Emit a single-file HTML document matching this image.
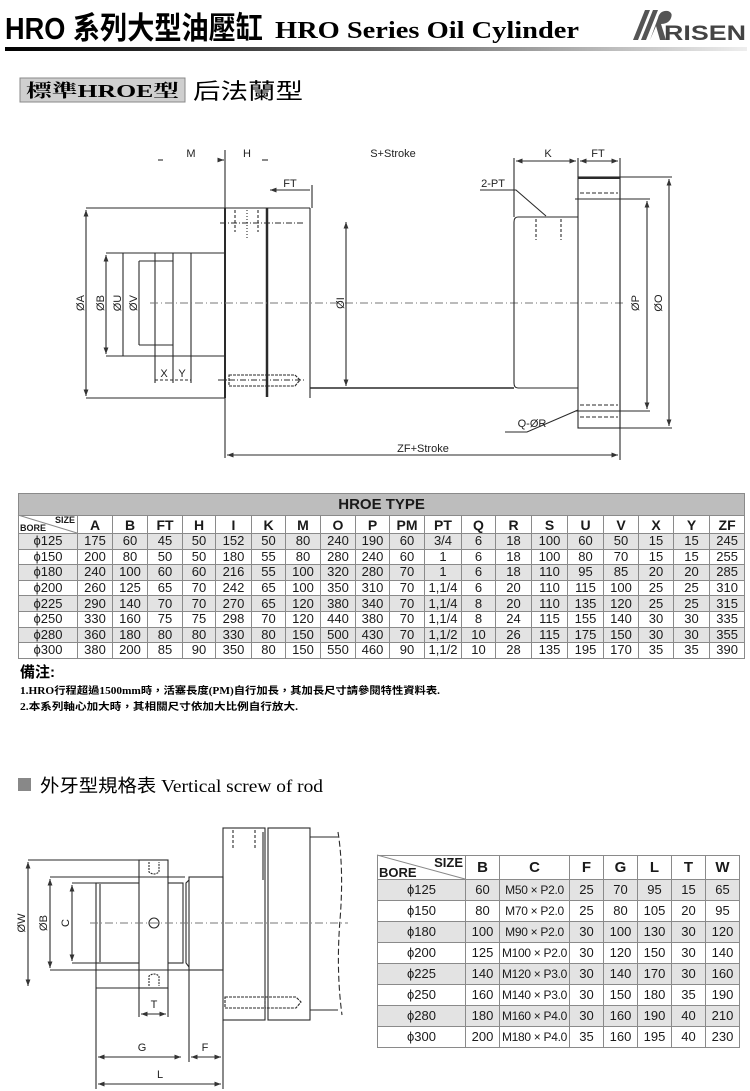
<!DOCTYPE html>
<html><head><meta charset="utf-8"><style>
body{margin:0;background:#fff;}
#w{position:relative;width:750px;height:1091px;overflow:hidden;background:#fff;}
svg{position:absolute;left:0;top:0;}
table{position:absolute;border-collapse:collapse;font-family:"Liberation Sans",Arial,sans-serif;color:#1a1a1a;table-layout:fixed;}
td{border:1px solid #8a8a8a;text-align:center;padding:0;overflow:hidden;white-space:nowrap;}
#t1 td{font-size:13px;height:14.6px;line-height:14px;}
#t1 tr.g td{background:#e3e3e3;}
#t1 .ttl td{background:#bdbdbd;font-weight:bold;font-size:15px;height:21px;}
#t1 .hd td{font-weight:bold;font-size:14px;height:17px;}
#t2 td{font-size:13px;height:20px;line-height:20px;}
#t2 tr:not(.hd) td:nth-child(3){font-size:12px;letter-spacing:-0.3px;}
#t2 tr.g td{background:#e3e3e3;}
#t2 .hd td{font-weight:bold;font-size:15px;height:23px;}
.bore{position:relative;}
.bore .s{position:absolute;right:2px;top:0;font-size:9px;font-weight:bold;line-height:9px;}
.bore .b{position:absolute;left:1px;bottom:0;font-size:9px;font-weight:bold;line-height:9px;}
</style></head><body><div id="w">
<svg width="750" height="1091" viewBox="0 0 750 1091" font-family="Liberation Sans, Arial, sans-serif">
<defs>
<linearGradient id="gb" x1="0" x2="1"><stop offset="0" stop-color="#000"/><stop offset="0.5" stop-color="#666"/><stop offset="1" stop-color="#eee"/></linearGradient>
<marker id="ar" viewBox="0 0 8 6" refX="8" refY="3" markerWidth="6" markerHeight="5" orient="auto-start-reverse"><path d="M0,0L8,3L0,6z" fill="#333"/></marker>
</defs>
<text x="5" y="39" font-size="31" font-weight="bold" font-family="Liberation Sans, Noto Sans CJK TC, sans-serif" textLength="258" lengthAdjust="spacingAndGlyphs">HRO 系列大型油壓缸</text>
<text x="275" y="38" font-size="24" font-weight="bold" font-family="Liberation Serif, serif" textLength="304" lengthAdjust="spacingAndGlyphs">HRO Series Oil Cylinder</text>
<g fill="#555"><path d="M633,40L645,10L650,10L638,40z"/><path d="M641,40L653,10L658,10L646,40z"/><path d="M650,40L658,18Q660,10 668,11Q674,13 670,20Q667,24 661,24L666,40L660,40L656,26z"/></g>
<text x="664" y="40" font-size="21" font-weight="bold" fill="#444" textLength="82" lengthAdjust="spacingAndGlyphs">RISEN</text>
<rect x="5" y="47" width="742" height="4" fill="url(#gb)"/>
<rect x="20" y="78" width="165" height="24" fill="#cfcfcf" stroke="#888"/>
<text x="26" y="97" font-size="18" font-weight="bold" font-family="Liberation Serif, Noto Serif CJK SC, serif" textLength="153" lengthAdjust="spacingAndGlyphs">標準HROE型</text>
<text x="193" y="99" font-size="22" font-family="Liberation Sans, Noto Sans CJK TC, sans-serif" textLength="110" lengthAdjust="spacingAndGlyphs">后法蘭型</text>

<g stroke="#2a2a2a" stroke-width="1.1" fill="none">
<line x1="86" y1="208" x2="225" y2="208"/><line x1="86" y1="398" x2="225" y2="398"/>
<line x1="86" y1="210" x2="86" y2="396" marker-start="url(#ar)" marker-end="url(#ar)"/>
<line x1="106" y1="253" x2="225" y2="253"/><line x1="106" y1="356" x2="225" y2="356"/>
<line x1="106" y1="255" x2="106" y2="354" marker-start="url(#ar)" marker-end="url(#ar)"/>
<line x1="123" y1="253" x2="123" y2="356"/>
<line x1="155" y1="253" x2="155" y2="383"/><line x1="173" y1="253" x2="173" y2="383"/><line x1="191" y1="253" x2="191" y2="383"/>
<line x1="139" y1="261" x2="173" y2="261"/><line x1="139" y1="345" x2="173" y2="345"/><line x1="139" y1="261" x2="139" y2="345"/>
<line x1="155" y1="380" x2="191" y2="380" stroke-dasharray="3,2"/>
<line x1="225" y1="208" x2="225" y2="398" stroke-width="2"/>
<line x1="225" y1="150" x2="225" y2="458"/>
<line x1="225" y1="208" x2="310" y2="208"/>
<line x1="267" y1="208" x2="267" y2="397" stroke-width="2.5"/>
<line x1="310" y1="208" x2="310" y2="398"/>
<line x1="312" y1="185" x2="312" y2="208"/>
<line x1="235" y1="210" x2="235" y2="232" stroke-dasharray="3,2"/><line x1="258" y1="210" x2="258" y2="232" stroke-dasharray="3,2"/><line x1="247" y1="210" x2="247" y2="240" stroke-dasharray="1,2"/>
<line x1="220" y1="223" x2="305" y2="223" stroke-dasharray="6,2,1,2"/>
<rect x="229" y="375" width="38" height="11" stroke-dasharray="3,1"/><path d="M267,375L295,375L300,380L295,386L267,386" stroke-dasharray="3,1"/>
<line x1="218" y1="380" x2="305" y2="380" stroke-dasharray="6,2,1,2"/>
<line x1="150" y1="303" x2="625" y2="303" stroke-dasharray="8,3,1,3" stroke="#777"/>
<line x1="346" y1="222" x2="346" y2="386" marker-start="url(#ar)" marker-end="url(#ar)"/>
<line x1="310" y1="388" x2="514" y2="388" stroke-width="1.5"/>
<path d="M514,222Q514,217 518,217L578,217M514,222L514,383Q514,388 518,388L578,388"/>
<line x1="536" y1="219" x2="536" y2="240" stroke-dasharray="3,2"/><line x1="561" y1="219" x2="561" y2="240" stroke-dasharray="3,2"/>
<rect x="578" y="177" width="42" height="251"/>
<line x1="578" y1="178" x2="620" y2="178" stroke-width="2"/>
<line x1="580" y1="193" x2="618" y2="193" stroke-dasharray="4,2"/><line x1="580" y1="405" x2="618" y2="405" stroke-dasharray="4,2"/><line x1="580" y1="417" x2="618" y2="417" stroke-dasharray="4,2"/>
<line x1="575" y1="199" x2="650" y2="199"/><line x1="575" y1="411" x2="650" y2="411"/>
<line x1="647" y1="201" x2="647" y2="409" marker-start="url(#ar)" marker-end="url(#ar)"/>
<line x1="620" y1="177" x2="672" y2="177"/><line x1="620" y1="428" x2="672" y2="428"/>
<line x1="669" y1="179" x2="669" y2="426" marker-start="url(#ar)" marker-end="url(#ar)"/>
<line x1="514" y1="158" x2="514" y2="217"/><line x1="578" y1="158" x2="578" y2="177"/><line x1="620" y1="158" x2="620" y2="460"/>
<line x1="516" y1="161" x2="576" y2="161" marker-start="url(#ar)" marker-end="url(#ar)"/>
<line x1="580" y1="161" x2="618" y2="161" marker-start="url(#ar)" marker-end="url(#ar)"/>
<line x1="270" y1="190" x2="310" y2="190" marker-start="url(#ar)"/>
<line x1="158" y1="160" x2="163" y2="160"/><line x1="220" y1="160" x2="224" y2="160" marker-end="url(#ar)"/><line x1="262" y1="160" x2="268" y2="160"/>
<line x1="227" y1="455" x2="618" y2="455" marker-start="url(#ar)" marker-end="url(#ar)"/>
<path d="M480,190L516,190L546,216"/>
<path d="M505,432L527,432L578,410"/>
</g>
<g font-size="11" fill="#222" text-anchor="middle">
<text x="191" y="157">M</text><text x="247" y="157">H</text><text x="393" y="157">S+Stroke</text><text x="548" y="157">K</text><text x="598" y="157">FT</text>
<text x="290" y="187">FT</text><text x="493" y="187">2-PT</text><text x="532" y="427">Q-ØR</text><text x="423" y="452">ZF+Stroke</text>
<text x="164" y="377">X</text><text x="182" y="377">Y</text>
<text transform="translate(86,303) rotate(-90)" y="-2">ØA</text>
<text transform="translate(106,303) rotate(-90)" y="-2">ØB</text>
<text transform="translate(123,303) rotate(-90)" y="-2">ØU</text>
<text transform="translate(139,303) rotate(-90)" y="-2">ØV</text>
<text transform="translate(346,303) rotate(-90)" y="-2">ØI</text>
<text transform="translate(641,303) rotate(-90)" y="-2">ØP</text>
<text transform="translate(664,303) rotate(-90)" y="-2">ØO</text>
</g>

<text x="20" y="677" font-size="15" font-weight="bold" font-family="Liberation Sans, Noto Sans CJK TC, sans-serif">備注:</text>
<text x="20" y="694" font-size="10" font-weight="bold" font-family="Liberation Serif, Noto Sans CJK TC, serif" textLength="420" lengthAdjust="spacingAndGlyphs">1.HRO行程超過1500mm時，活塞長度(PM)自行加長，其加長尺寸請參閱特性資料表.</text>
<text x="20" y="710" font-size="10" font-weight="bold" font-family="Liberation Serif, Noto Sans CJK TC, serif" textLength="278" lengthAdjust="spacingAndGlyphs">2.本系列軸心加大時，其相關尺寸依加大比例自行放大.</text>

<rect x="18" y="778" width="13" height="13" fill="#888"/>
<text x="40" y="792" font-size="18" font-family="Liberation Serif, Noto Sans CJK TC, serif" textLength="283" lengthAdjust="spacingAndGlyphs">外牙型規格表 Vertical screw of rod</text>
<g stroke="#2a2a2a" stroke-width="1.1" fill="none">
<rect x="223" y="828" width="42" height="192"/>
<rect x="268" y="828" width="42" height="192"/>
<line x1="263" y1="832" x2="263" y2="880"/>
<line x1="233" y1="830" x2="233" y2="850" stroke-dasharray="3,2"/><line x1="255" y1="830" x2="255" y2="850" stroke-dasharray="3,2"/>
<line x1="310" y1="837" x2="338" y2="837"/><line x1="310" y1="1010" x2="338" y2="1010"/>
<path d="M338,832Q344,870 340,920Q336,970 342,1015" stroke-dasharray="6,3"/>
<rect x="189" y="877" width="34" height="93"/>
<path d="M189,880L186,883L186,963L189,967"/>
<rect x="96" y="883" width="87" height="80"/>
<line x1="100" y1="884" x2="100" y2="962"/>
<line x1="96" y1="963" x2="96" y2="988"/><line x1="96" y1="988" x2="139" y2="988"/>
<rect x="139" y="860" width="29" height="128" fill="#fff"/>
<path d="M149,862L149,872Q154,876 159,872L159,862" stroke-dasharray="2,1"/>
<path d="M149,986L149,976Q154,972 159,976L159,986" stroke-dasharray="2,1"/>
<circle cx="154" cy="923" r="5"/>
<line x1="90" y1="923" x2="348" y2="923" stroke-dasharray="8,3,1,3" stroke="#777"/>
<rect x="225" y="997" width="40" height="11" stroke-dasharray="3,1"/><path d="M265,997L296,997L301,1002L296,1008L265,1008" stroke-dasharray="3,1"/>
<line x1="28" y1="860" x2="139" y2="860"/><line x1="28" y1="862" x2="28" y2="986" marker-start="url(#ar)" marker-end="url(#ar)"/>
<line x1="50" y1="877" x2="185" y2="877"/><line x1="50" y1="970" x2="189" y2="970"/>
<line x1="50" y1="879" x2="50" y2="968" marker-start="url(#ar)" marker-end="url(#ar)"/>
<line x1="72" y1="883" x2="96" y2="883"/><line x1="72" y1="963" x2="96" y2="963"/>
<line x1="72" y1="885" x2="72" y2="961" marker-start="url(#ar)" marker-end="url(#ar)"/>
<line x1="139" y1="988" x2="139" y2="1017"/><line x1="168" y1="988" x2="168" y2="1017"/>
<line x1="141" y1="1014" x2="166" y2="1014" marker-start="url(#ar)" marker-end="url(#ar)"/>
<line x1="96" y1="988" x2="96" y2="1089"/><line x1="189" y1="970" x2="189" y2="1062"/><line x1="223" y1="1020" x2="223" y2="1089"/>
<line x1="98" y1="1057" x2="181" y2="1057" marker-start="url(#ar)" marker-end="url(#ar)"/>
<line x1="191" y1="1057" x2="221" y2="1057" marker-start="url(#ar)" marker-end="url(#ar)"/>
<line x1="98" y1="1084" x2="221" y2="1084" marker-start="url(#ar)" marker-end="url(#ar)"/>
</g>
<g font-size="11" fill="#222" text-anchor="middle">
<text x="154" y="1008">T</text><text x="142" y="1051">G</text><text x="205" y="1051">F</text><text x="160" y="1078">L</text>
<text transform="translate(28,923) rotate(-90)" y="-3">ØW</text>
<text transform="translate(50,923) rotate(-90)" y="-3">ØB</text>
<text transform="translate(72,923) rotate(-90)" y="-3">C</text>
</g>
<line x1="377" y1="855" x2="465" y2="879" stroke="#888"/>
<line x1="18" y1="515" x2="77" y2="533" stroke="#888"/>
</svg>

<table id="t1" style="left:18px;top:493px;width:726px;">
<colgroup><col style="width:59px"><col style="width:35px"><col style="width:35px"><col style="width:35px"><col style="width:33px"><col style="width:36px"><col style="width:34px"><col style="width:35px"><col style="width:35px"><col style="width:34px"><col style="width:35px"><col style="width:37px"><col style="width:34px"><col style="width:36px"><col style="width:36px"><col style="width:36px"><col style="width:35px"><col style="width:35px"><col style="width:36px"><col style="width:35px"></colgroup>
<tr class="ttl"><td colspan="20">HROE TYPE</td></tr>
<tr class="hd"><td class="bore"><span class="s">SIZE</span><span class="b">BORE</span></td><td>A</td><td>B</td><td>FT</td><td>H</td><td>I</td><td>K</td><td>M</td><td>O</td><td>P</td><td>PM</td><td>PT</td><td>Q</td><td>R</td><td>S</td><td>U</td><td>V</td><td>X</td><td>Y</td><td>ZF</td></tr>
<tr class="g"><td>ϕ125</td><td>175</td><td>60</td><td>45</td><td>50</td><td>152</td><td>50</td><td>80</td><td>240</td><td>190</td><td>60</td><td>3/4</td><td>6</td><td>18</td><td>100</td><td>60</td><td>50</td><td>15</td><td>15</td><td>245</td></tr>
<tr><td>ϕ150</td><td>200</td><td>80</td><td>50</td><td>50</td><td>180</td><td>55</td><td>80</td><td>280</td><td>240</td><td>60</td><td>1</td><td>6</td><td>18</td><td>100</td><td>80</td><td>70</td><td>15</td><td>15</td><td>255</td></tr>
<tr class="g"><td>ϕ180</td><td>240</td><td>100</td><td>60</td><td>60</td><td>216</td><td>55</td><td>100</td><td>320</td><td>280</td><td>70</td><td>1</td><td>6</td><td>18</td><td>110</td><td>95</td><td>85</td><td>20</td><td>20</td><td>285</td></tr>
<tr><td>ϕ200</td><td>260</td><td>125</td><td>65</td><td>70</td><td>242</td><td>65</td><td>100</td><td>350</td><td>310</td><td>70</td><td>1,1/4</td><td>6</td><td>20</td><td>110</td><td>115</td><td>100</td><td>25</td><td>25</td><td>310</td></tr>
<tr class="g"><td>ϕ225</td><td>290</td><td>140</td><td>70</td><td>70</td><td>270</td><td>65</td><td>120</td><td>380</td><td>340</td><td>70</td><td>1,1/4</td><td>8</td><td>20</td><td>110</td><td>135</td><td>120</td><td>25</td><td>25</td><td>315</td></tr>
<tr><td>ϕ250</td><td>330</td><td>160</td><td>75</td><td>75</td><td>298</td><td>70</td><td>120</td><td>440</td><td>380</td><td>70</td><td>1,1/4</td><td>8</td><td>24</td><td>115</td><td>155</td><td>140</td><td>30</td><td>30</td><td>335</td></tr>
<tr class="g"><td>ϕ280</td><td>360</td><td>180</td><td>80</td><td>80</td><td>330</td><td>80</td><td>150</td><td>500</td><td>430</td><td>70</td><td>1,1/2</td><td>10</td><td>26</td><td>115</td><td>175</td><td>150</td><td>30</td><td>30</td><td>355</td></tr>
<tr><td>ϕ300</td><td>380</td><td>200</td><td>85</td><td>90</td><td>350</td><td>80</td><td>150</td><td>550</td><td>460</td><td>90</td><td>1,1/2</td><td>10</td><td>28</td><td>135</td><td>195</td><td>170</td><td>35</td><td>35</td><td>390</td></tr>
</table>

<table id="t2" style="left:377px;top:855px;width:362px;">
<colgroup><col style="width:88px"><col style="width:34px"><col style="width:70px"><col style="width:34px"><col style="width:34px"><col style="width:34px"><col style="width:34px"><col style="width:34px"></colgroup>
<tr class="hd"><td class="bore"><span class="s" style="font-size:13px;line-height:13px">SIZE</span><span class="b" style="font-size:13px;line-height:13px">BORE</span></td><td>B</td><td>C</td><td>F</td><td>G</td><td>L</td><td>T</td><td>W</td></tr>
<tr class="g"><td>ϕ125</td><td>60</td><td>M50 × P2.0</td><td>25</td><td>70</td><td>95</td><td>15</td><td>65</td></tr>
<tr><td>ϕ150</td><td>80</td><td>M70 × P2.0</td><td>25</td><td>80</td><td>105</td><td>20</td><td>95</td></tr>
<tr class="g"><td>ϕ180</td><td>100</td><td>M90 × P2.0</td><td>30</td><td>100</td><td>130</td><td>30</td><td>120</td></tr>
<tr><td>ϕ200</td><td>125</td><td>M100 × P2.0</td><td>30</td><td>120</td><td>150</td><td>30</td><td>140</td></tr>
<tr class="g"><td>ϕ225</td><td>140</td><td>M120 × P3.0</td><td>30</td><td>140</td><td>170</td><td>30</td><td>160</td></tr>
<tr><td>ϕ250</td><td>160</td><td>M140 × P3.0</td><td>30</td><td>150</td><td>180</td><td>35</td><td>190</td></tr>
<tr class="g"><td>ϕ280</td><td>180</td><td>M160 × P4.0</td><td>30</td><td>160</td><td>190</td><td>40</td><td>210</td></tr>
<tr><td>ϕ300</td><td>200</td><td>M180 × P4.0</td><td>35</td><td>160</td><td>195</td><td>40</td><td>230</td></tr>
</table>
</div></body></html>
